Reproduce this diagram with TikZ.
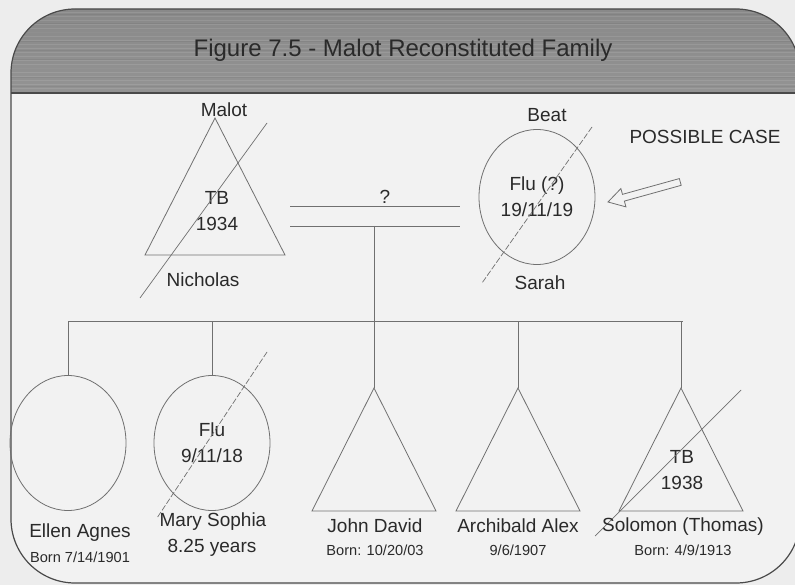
\documentclass[tikz,border=0pt]{standalone}
\usepackage{fontspec}
\setmainfont{Liberation Sans}
\usetikzlibrary{shapes.geometric}
\definecolor{paperBg}{HTML}{EDEDED}
\definecolor{frameFill}{HTML}{F2F2F2}
\definecolor{frameLine}{HTML}{4A4A4A}
\definecolor{headTop}{HTML}{888888}
\definecolor{headMid}{HTML}{A8A8A8}
\definecolor{headBot}{HTML}{939393}
\definecolor{treeLine}{HTML}{707070}
\definecolor{labelText}{HTML}{2A2A2A}

\begin{document}
\begin{tikzpicture}[x=1pt, y=-1pt,
    tree/.style={draw=treeLine, line width=0.8pt},
    slash/.style={draw=treeLine, line width=0.7pt},
    lostslash/.style={slash, dash pattern=on 6pt off 2pt},
    person/.style={
        ellipse, tree,
        minimum width=116pt, minimum height=135pt,
        inner sep=0pt, align=center,
        text=labelText, font=\fontsize{19}{26}\selectfont
    },
    nametxt/.style={text=labelText, inner sep=0pt, align=center, font=\fontsize{19}{26}\selectfont},
    datetxt/.style={text=labelText, inner sep=0pt, font=\fontsize{14.6}{17}\selectfont}
]
  \useasboundingbox (0,0) rectangle (795,585);
  \fill[paperBg] (0,0) rectangle (795,585);

  % Frame and header band
  \fill[frameFill, rounded corners=64] (11,583) -- (11,9) -- (800,9) -- (800,583) -- cycle;
  \begin{scope}
    \clip[rounded corners=64] (11,583) -- (11,9) -- (800,9) -- (800,583) -- cycle;
    \shade[top color=headTop, middle color=headMid, bottom color=headBot] (0,0) rectangle (800,93);
    \foreach \y in {13,17,...,89}
      \draw[white, opacity=0.10, line width=1pt] (0,\y) -- (800,\y);
    \foreach \y in {15,24,...,87}
      \draw[black, opacity=0.05, line width=1pt] (0,\y) -- (800,\y);
  \end{scope}
  \draw[frameLine, line width=1.6pt] (11,93) -- (800,93);
  \draw[frameLine, line width=1.2pt, rounded corners=64] (11,583) -- (11,9) -- (800,9) -- (800,583) -- cycle;

  \node[text=labelText, inner sep=0pt, font=\fontsize{24}{28}\selectfont] (title) at (403,50)
      {Figure 7.5 - Malot Reconstituted Family};

  % Parents
  \coordinate (malot) at (215,118);
  \draw[tree] (malot) -- ++(70,137) -- ++(-140,0) -- cycle;
  \node[nametxt] (malotname) at (224,110) {Malot};
  \node[nametxt] (malotdeath) at (217,211) {TB\\1934};
  \node[nametxt] (nicholas) at (203,280) {Nicholas};
  \draw[slash] (267,123) -- (140,298);

  \node[person] (beat) at (537,197) {Flu (?)\\19/11/19};
  \node[nametxt] (beatname) at (547,115) {Beat};
  \node[nametxt] (sarah) at (540,283) {Sarah};
  \draw[lostslash] (592,127) -- (482,283);

  \node[nametxt] (possible) at (705,137) {POSSIBLE CASE};
  \begin{scope}[shift={(608,202)}, rotate=15.5]
    \draw[tree, fill=frameFill] (0,0) -- (16,-9.5) -- (16,-3.5) -- (75,-3.5)
        -- (75,3.5) -- (16,3.5) -- (16,9.5) -- cycle;
  \end{scope}

  % Marriage
  \coordinate (wedtopL) at (290,206);
  \coordinate (wedtopR) at (460,206);
  \coordinate (wedbotL) at (290,226);
  \coordinate (wedbotR) at (460,226);
  \draw[tree] (wedtopL) -- (wedtopR);
  \draw[tree] (wedbotL) -- (wedbotR);
  \node[nametxt] (unknown) at (385,197) {?};
  \coordinate (drop) at (374,226);

  % Children
  \coordinate (sibL) at (68,321);
  \coordinate (sibR) at (683,321);
  \draw[tree] (sibL) -- (sibR);

  \node[person] (ellen) at (68,443) {};
  \node[person] (mary) at (212,443) {Flu\\9/11/18};
  \draw[lostslash] (267,352) -- (157,518);

  \coordinate (john) at (374,388);
  \coordinate (archibald) at (518,388);
  \coordinate (solomon) at (681,388);
  \foreach \kid in {john,archibald,solomon}
    \draw[tree] (\kid) -- ++(62,123) -- ++(-124,0) -- cycle;
  \node[nametxt] (solomondeath) at (682,470) {TB\\1938};
  \draw[slash] (741,390) -- (595,536);

  \draw[tree] (sibL) -- (ellen.north);
  \draw[tree] (mary.north |- sibL) -- (mary.north);
  \draw[tree] (drop) -- (john);
  \draw[tree] (archibald |- sibL) -- (archibald);
  \draw[tree] (solomon |- sibR) -- (solomon);

  % Names and dates
  \node[nametxt] (ellenname) at (80,533) {Ellen Agnes};
  \node[datetxt] (ellenborn) at (80,557) {Born 7/14/1901};
  \node[nametxt] (maryname) at (213,522) {Mary Sophia};
  \node[nametxt] (maryage) at (212,548) {8.25 years};
  \node[nametxt] (johnname) at (375,526) {John David};
  \node[datetxt] (johnborn) at (375,550) {Born: 10/20/03};
  \node[nametxt] (archname) at (518,526) {Archibald Alex};
  \node[datetxt] (archborn) at (518,550) {9/6/1907};
  \node[nametxt] (solname) at (683,527) {Solomon (Thomas)};
  \node[datetxt] (solborn) at (683,550) {Born: 4/9/1913};
\end{tikzpicture}
\end{document}
